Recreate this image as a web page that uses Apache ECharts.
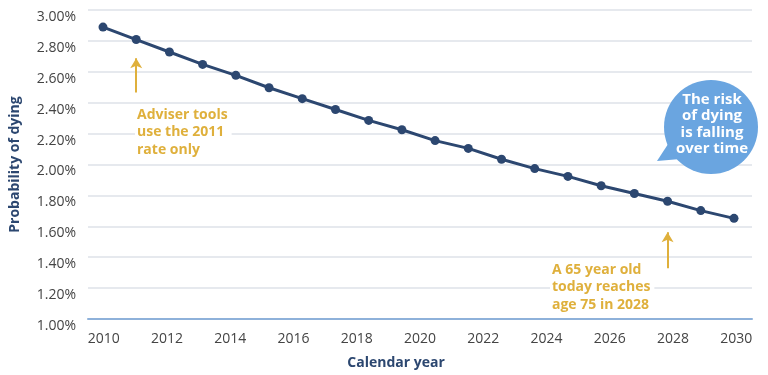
<!DOCTYPE html>
<html>
<head>
<meta charset="utf-8">
<script src="https://cdn.jsdelivr.net/npm/echarts@6/dist/echarts.min.js"></script>
<style>
  html, body { margin: 0; padding: 0; background: #ffffff; }
  #chart { width: 768px; height: 375px; }
</style>
</head>
<body>
<div id="chart"></div>
<script>
// axis labels along the bottom (one band per year)
const labelYears = ['2010', '2011', '2012', '2013', '2014', '2015', '2016', '2017', '2018', '2019', '2020',
  '2021', '2022', '2023', '2024', '2025', '2026', '2027', '2028', '2029', '2030'];

// plotted points (20 of them in the source)
const pointYears = ['2010', '2011', '2012', '2013', '2014', '2015', '2016', '2017', '2018', '2019',
  '2020', '2021', '2022', '2023', '2024', '2025', '2026', '2027', '2028', '2029'];
const probability = [2.89, 2.81, 2.73, 2.65, 2.58, 2.50, 2.43, 2.36, 2.29, 2.23,
  2.16, 2.11, 2.04, 1.98, 1.93, 1.87, 1.82, 1.77, 1.71, 1.66];

const navy = '#2c4770';
const gold = '#dfb03c';
const bubble = '#6aa5e0';
const font = '"Open Sans", sans-serif';

const chart = echarts.init(document.getElementById('chart'));

const option = {
  animation: false,
  grid: [
    { left: 87, right: 16, top: 10, bottom: 54 },
    { left: 103, right: 34, top: 10, bottom: 54 }
  ],
  xAxis: [
    {
      type: 'category',
      gridIndex: 0,
      data: labelYears,
      boundaryGap: true,
      axisTick: { show: false },
      axisLine: { lineStyle: { color: '#8eb1da', width: 2 } },
      axisLabel: { interval: 1, margin: 13, color: '#444', fontSize: 14, fontFamily: font },
      name: 'Calendar year',
      nameLocation: 'middle',
      nameGap: 37,
      nameTextStyle: { color: navy, fontSize: 14, fontWeight: 'bold', fontFamily: font, padding: [0, 48, 0, 0] },
      z: 5
    },
    {
      type: 'category',
      gridIndex: 1,
      data: pointYears,
      boundaryGap: false,
      show: false
    }
  ],
  yAxis: [
    {
      type: 'value',
      gridIndex: 0,
      min: 1,
      max: 3,
      interval: 0.2,
      axisLine: { show: false },
      axisTick: { show: false },
      splitLine: { lineStyle: { color: '#e6e9ee', width: 2 } },
      axisLabel: {
        margin: 12,
        color: '#444',
        fontSize: 14,
        fontFamily: font,
        verticalAlign: 'top',
        formatter: v => v.toFixed(2) + '%'
      },
      name: 'Probability of dying',
      nameLocation: 'middle',
      nameGap: 66,
      nameTextStyle: { color: navy, fontSize: 14, fontWeight: 'bold', fontFamily: font }
    },
    { type: 'value', gridIndex: 1, min: 1, max: 3, show: false }
  ],
  series: [
    {
      type: 'line',
      xAxisIndex: 1,
      yAxisIndex: 1,
      data: probability,
      symbol: 'circle',
      symbolSize: 9,
      lineStyle: { color: navy, width: 3 },
      itemStyle: { color: navy },
      z: 10,
      markLine: {
        silent: true,
        symbol: ['none', 'arrow'],
        symbolSize: [9, 10],
        label: { show: false },
        lineStyle: { color: gold, width: 2, type: 'solid' },
        data: [
          [{ coord: ['2011', 2.47] }, { coord: ['2011', 2.69] }],
          [{ coord: ['2027', 1.34] }, { coord: ['2027', 1.57] }]
        ]
      }
    }
  ],
  graphic: [
    {
      type: 'text',
      left: 135,
      top: 106,
      z: 20,
      style: {
        text: 'Adviser tools\nuse the 2011\nrate only',
        fill: gold,
        font: 'bold 14px ' + font,
        lineHeight: 17.5,
        backgroundColor: '#ffffff',
        padding: [0, 4, 2, 2]
      }
    },
    {
      type: 'text',
      left: 550,
      top: 261,
      z: 20,
      style: {
        text: 'A 65 year old\ntoday reaches\nage 75 in 2028',
        fill: gold,
        font: 'bold 14px ' + font,
        lineHeight: 17.5,
        backgroundColor: '#ffffff',
        padding: [0, 4, 2, 2]
      }
    },
    {
      type: 'polygon',
      z: 20,
      shape: { points: [[672, 138], [692, 158], [657, 161]] },
      style: { fill: bubble }
    },
    {
      type: 'circle',
      z: 20,
      shape: { cx: 711, cy: 127, r: 47 },
      style: { fill: bubble }
    },
    {
      type: 'text',
      z: 21,
      x: 712,
      y: 124,
      style: {
        text: 'The risk\nof dying\nis falling\nover time',
        fill: '#ffffff',
        font: 'bold 15px ' + font,
        lineHeight: 16.5,
        align: 'center',
        verticalAlign: 'middle'
      }
    }
  ]
};

chart.setOption(option);
window.addEventListener('resize', () => chart.resize());
</script>
</body>
</html>
